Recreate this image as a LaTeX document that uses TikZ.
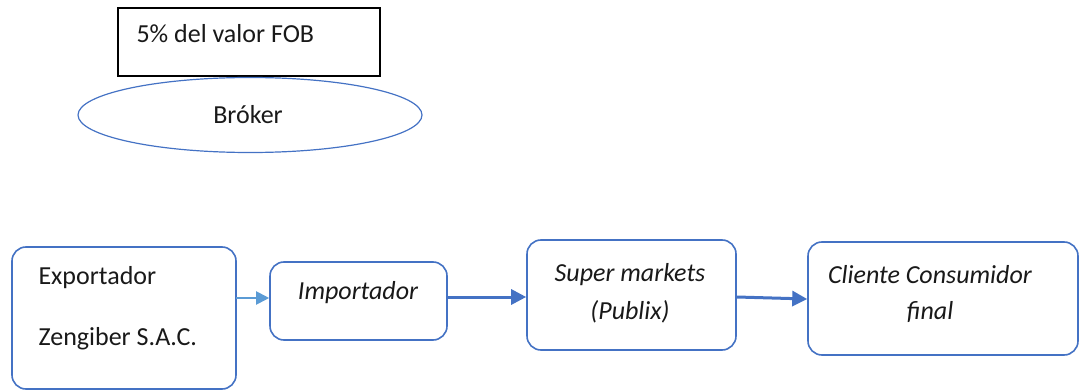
\documentclass[tikz,border=0pt]{standalone}
\usepackage{fontspec}
\setmainfont{Carlito}
\usetikzlibrary{shapes.geometric,arrows.meta}
\definecolor{obox}{HTML}{4472C4}
\definecolor{larrow}{HTML}{5B9BD5}
\tikzset{
  rbox/.style={draw=obox,line width=1.6pt,rounded corners=14pt,fill=white},
  txt/.style={font=\fontsize{26}{30}\selectfont,text=black!90},
  itxt/.style={font=\fontsize{26}{30}\selectfont\itshape,text=black!90},
  thinarrow/.style={draw=larrow,line width=2pt,-{Triangle[length=13pt,width=13pt]}},
  thickarrow/.style={draw=obox,line width=3pt,-{Triangle[length=15pt,width=15pt]}}
}
\begin{document}
\begin{tikzpicture}[x=1pt,y=-1pt]
\useasboundingbox (0,0) rectangle (1081,390);
% top: broker
\node[draw=black,line width=1.5pt,minimum width=262pt,minimum height=68pt,inner sep=0pt] (fob) at (249,42) {};
\node[txt,anchor=west] (fobt) at (133,34) {5\% del valor FOB};
\node[draw=obox,line width=1.2pt,ellipse,minimum width=344pt,minimum height=75pt,inner sep=0pt] (brk) at (250,115) {};
\node[txt] (brkt) at (248,115) {Bróker};
% bottom chain
\draw[rbox] (12,247) rectangle (236,389);
\coordinate (exp) at (236,298);
\node[txt,anchor=west] (expa) at (35,278) {Exportador};
\node[txt,anchor=west] (expb) at (35,339) {Zengiber S.A.C.};
\node[rbox,minimum width=177pt,minimum height=78pt,inner sep=0pt] (imp) at (358.5,301) {};
\node[itxt] (impt) at (358,293) {Importador};
\node[rbox,minimum width=209pt,minimum height=110pt,inner sep=0pt] (sup) at (631.5,295) {};
\node[itxt] (supa) at (630,275) {Super markets};
\node[itxt] (supb) at (630,312) {(Publix)};
\node[rbox,minimum width=270pt,minimum height=113pt,inner sep=0pt] (cli) at (943,298.5) {};
\node[itxt] (clia) at (930,275) {Cliente Consumidor};
\node[itxt] (clib) at (930,312) {final};
% arrows
\draw[thinarrow] (exp) -- (imp.west |- exp);
\draw[thickarrow] (imp.east |- 0,297) -- (sup.west |- 0,297);
\draw[thickarrow] (sup.east |- 0,297) -- (cli.west |- 0,299);
\end{tikzpicture}
\end{document}
